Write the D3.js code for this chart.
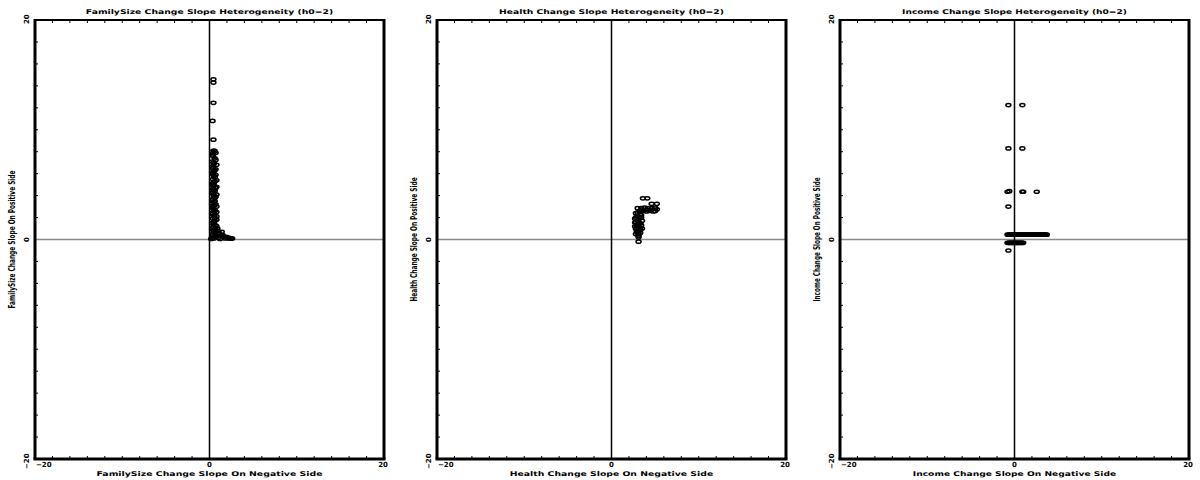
<!DOCTYPE html>
<html>
<head>
<meta charset="utf-8">
<script src="https://cdn.jsdelivr.net/npm/d3@7"></script>
<style>
  html, body { margin: 0; padding: 0; background: #fff; }
  svg { display: block; }
  .ttl { font-family: "DejaVu Sans", sans-serif; font-weight: bold; font-size: 6.5px; fill: #000; }
  .tick { font-family: "DejaVu Sans", sans-serif; font-weight: bold; font-size: 7px; fill: #000; }
  .ylab { font-family: "DejaVu Sans Condensed", "DejaVu Sans", sans-serif; font-stretch: condensed; font-weight: bold; font-size: 8px; fill: #000; }
</style>
</head>
<body>
<script>
// Panel titles and axis labels
const panelNames = ["FamilySize", "Health", "Income"];
const titles = panelNames.map(n => n + " Change Slope Heterogeneity (h0=2)");
const xTitles = panelNames.map(n => n + " Change Slope On Negative Side");
const yTitles = panelNames.map(n => n + " Change Slope On Positive Side");
const xTickLabels = [-20, 0, 20];
const yTickLabels = [-20, 0, 20];

// FamilySize: slope on negative side (x) vs positive side (y)
const familyNeg = [0.45, 0.45, 0.45, 0.35, 0.45,
  0.5, 0.3, 0.7, 0.4, 0.6, 0.3, 0.5, 0.8, 0.4, 0.6, 0.3, 0.7, 0.5, 0.4, 0.6, 0.3, 0.5, 0.8,
  0.4, 0.6, 0.3, 0.5, 0.7, 0.4, 0.6, 0.3, 0.5, 0.8, 0.4, 0.6, 0.3, 0.5, 0.8, 0.4, 0.6, 0.3,
  0.5, 0.8, 0.4, 0.6, 0.9, 0.3, 0.6, 1.0, 0.4, 1.3, 0.7, 1.6, 0.3, 2.0, 1.0, 2.4, 0.5, 1.8,
  2.6, 1.2, 0.2, 1.4, 2.2,
  0.6, 0.4, 0.7, 0.5, 0.3, 0.7, 0.5, 0.4, 0.6, 0.8, 0.5, 0.3, 0.7, 0.5, 0.4, 0.8, 0.6, 0.3,
  0.5, 0.7, 0.4, 0.6, 0.8, 0.3, 0.6, 0.8, 0.5, 0.7, 0.3, 0.9, 0.5, 1.1, 0.7, 1.5, 0.9, 1.9,
  2.2, 2.5, 0.3];
const familyPos = [14.6, 14.3, 12.45, 10.8, 9.1,
  8.1, 8.0, 7.9, 7.6, 7.4, 7.1, 6.9, 6.8, 6.5, 6.3, 6.1, 5.9, 5.8, 5.5, 5.3, 5.1, 4.9, 4.8,
  4.6, 4.4, 4.2, 4.0, 3.9, 3.7, 3.5, 3.3, 3.1, 3.0, 2.8, 2.6, 2.4, 2.2, 2.1, 1.9, 1.7, 1.5,
  1.4, 1.2, 1.1, 0.9, 0.8, 0.7, 0.6, 0.5, 0.4, 0.35, 0.3, 0.25, 0.2, 0.2, 0.15, 0.12, 0.1, 0.1,
  0.08, 0.05, 0.05, 0.7, 0.15,
  8.05, 7.75, 7.25, 7.0, 6.65, 6.4, 6.2, 5.95, 5.65, 5.4, 5.2, 5.0, 4.7, 4.5, 4.3, 4.1, 3.8, 3.6,
  3.4, 3.2, 2.95, 2.7, 2.5, 2.3, 2.0, 1.8, 1.6, 1.3, 1.0, 1.0, 0.75, 0.6, 0.45, 0.4, 0.3, 0.25,
  0.1, 0.1, 0.1];

// Health
const healthNeg = [3.6, 4.1, 4.6, 5.2,
  3.0, 3.4, 3.8, 4.2, 4.6, 5.0, 3.2, 3.6, 4.0, 4.4, 4.8, 5.0,
  2.8, 3.3, 2.9, 3.4, 2.7, 3.1, 3.5, 2.8, 3.2, 2.9, 3.4, 2.7, 3.1, 3.5, 2.8, 3.2, 2.9, 3.3, 2.8, 3.1,
  3.1, 3.1, 3.1,
  3.0, 3.4, 2.8, 3.2, 3.0, 2.7, 3.3, 3.0, 2.8, 3.3, 3.0, 3.1,
  3.4, 3.8, 4.2, 4.6, 5.2];
const healthPos = [3.75, 3.75, 3.25, 3.25,
  2.85, 2.85, 2.9, 2.85, 2.85, 2.9, 2.55, 2.6, 2.55, 2.6, 2.55, 2.6,
  2.4, 2.3, 2.1, 2.0, 1.9, 1.8, 1.7, 1.6, 1.5, 1.35, 1.3, 1.2, 1.1, 1.0, 0.95, 0.85, 0.7, 0.6, 0.5, 0.35,
  0.55, 0.2, -0.2,
  2.45, 2.2, 2.0, 1.95, 1.7, 1.55, 1.45, 1.25, 1.05, 0.9, 0.8, 0.5,
  2.7, 2.7, 2.7, 2.7, 2.75];

// Income
const incomeNeg = [-0.7, 0.9, -0.7, 0.9, -0.8, -0.6, 0.9, 1.0, 2.55, -0.7,
  -0.8, -0.7, -0.6, -0.5, -0.4, -0.3, -0.2, -0.1, 0.0, 0.1, 0.2, 0.3, 0.4, 0.5, 0.6, 0.7, 0.8, 0.9,
  1.0, 1.1, 1.2, 1.3, 1.4, 1.5, 1.6, 1.7, 1.8, 1.9, 2.0, 2.1, 2.2, 2.3, 2.4, 2.5, 2.6, 2.7,
  2.8, 2.9, 3.0, 3.1, 3.2, 3.3, 3.4, 3.5, 3.6, 3.7,
  -0.8, -0.7, -0.6, -0.5, -0.4, -0.3, -0.2, -0.1, 0.0, 0.1, 0.2, 0.3, 0.4, 0.5, 0.6, 0.7, 0.8, 0.9, 1.0,
  -0.7];
const incomePos = [12.25, 12.25, 8.3, 8.3, 4.35, 4.4, 4.35, 4.35, 4.35, 3.0,
  0.44, 0.44, 0.44, 0.44, 0.44, 0.44, 0.44, 0.44, 0.44, 0.44, 0.44, 0.44, 0.44, 0.44, 0.44, 0.44, 0.44, 0.44,
  0.44, 0.44, 0.44, 0.44, 0.44, 0.44, 0.44, 0.44, 0.44, 0.44, 0.44, 0.44, 0.44, 0.44, 0.44, 0.44, 0.44, 0.44,
  0.44, 0.44, 0.44, 0.44, 0.44, 0.44, 0.44, 0.44, 0.44, 0.44,
  -0.3, -0.3, -0.3, -0.3, -0.3, -0.3, -0.3, -0.3, -0.3, -0.3, -0.3, -0.3, -0.3, -0.3, -0.3, -0.3, -0.3, -0.3, -0.3,
  -1.0];

const panels = [
  { neg: familyNeg, pos: familyPos, left: 35 },
  { neg: healthNeg, pos: healthPos, left: 437 },
  { neg: incomeNeg, pos: incomePos, left: 840 }
];

const W = 1200, H = 480;
const plotW = 349, plotTop = 20, plotBottom = 459;

const svg = d3.select("body").append("svg").attr("width", W).attr("height", H);

panels.forEach((p, i) => {
  const x = d3.scaleLinear().domain([-20, 20]).range([p.left, p.left + plotW]);
  const y = d3.scaleLinear().domain([-20, 20]).range([plotBottom, plotTop]);
  const g = svg.append("g");
  const cx = x(0);

  // minor ticks every 2 units, drawn inside the frame
  const xt = x.ticks(20).filter(v => v > -20 && v < 20);
  const yt = y.ticks(20).filter(v => v > -20 && v < 20);
  g.selectAll(".tt").data(xt).enter().append("line")
    .attr("x1", d => x(d)).attr("x2", d => x(d)).attr("y1", plotTop).attr("y2", plotTop + 3)
    .attr("stroke", "#000").attr("stroke-width", 1);
  g.selectAll(".bt").data(xt).enter().append("line")
    .attr("x1", d => x(d)).attr("x2", d => x(d)).attr("y1", plotBottom).attr("y2", plotBottom - 3)
    .attr("stroke", "#000").attr("stroke-width", 1);
  g.selectAll(".lt").data(yt).enter().append("line")
    .attr("x1", p.left).attr("x2", p.left + 3).attr("y1", d => y(d)).attr("y2", d => y(d))
    .attr("stroke", "#000").attr("stroke-width", 1);

  // zero reference lines
  g.append("line").attr("x1", x(-20)).attr("x2", x(20)).attr("y1", y(0)).attr("y2", y(0))
    .attr("stroke", "#8a8a8a").attr("stroke-width", 1.6);
  g.append("line").attr("x1", cx).attr("x2", cx).attr("y1", plotTop).attr("y2", plotBottom)
    .attr("stroke", "#000").attr("stroke-width", 1.5);

  // frame
  g.append("line").attr("x1", p.left).attr("x2", p.left + plotW).attr("y1", plotTop).attr("y2", plotTop)
    .attr("stroke", "#000").attr("stroke-width", 2);
  g.append("line").attr("x1", p.left - 1.5).attr("x2", p.left + plotW + 1.5).attr("y1", plotBottom).attr("y2", plotBottom)
    .attr("stroke", "#000").attr("stroke-width", 3);
  g.append("line").attr("x1", p.left).attr("x2", p.left).attr("y1", plotTop - 1).attr("y2", plotBottom)
    .attr("stroke", "#000").attr("stroke-width", 3);
  g.append("line").attr("x1", p.left + plotW).attr("x2", p.left + plotW).attr("y1", plotTop - 1).attr("y2", plotBottom)
    .attr("stroke", "#000").attr("stroke-width", 3);

  // points
  const pts = p.neg.map((v, k) => [v, p.pos[k]]);
  g.selectAll(".pt").data(pts).enter().append("ellipse")
    .attr("cx", d => x(d[0])).attr("cy", d => y(d[1]))
    .attr("rx", 2.5).attr("ry", 1.6)
    .attr("fill", "none").attr("stroke", "#000").attr("stroke-width", 1.5);

  // x tick labels
  g.selectAll(".xl").data(xTickLabels).enter().append("text").attr("class", "tick")
    .attr("x", d => d === 0 ? x(d) : (d < 0 ? x(d) + 1 : x(d) + 4))
    .attr("y", 467)
    .attr("text-anchor", d => d === 0 ? "middle" : (d < 0 ? "start" : "end"))
    .text(d => d < 0 ? "\u2212" + Math.abs(d) : d);

  // y tick labels (rotated)
  g.selectAll(".yl").data(yTickLabels).enter().append("text").attr("class", "tick")
    .attr("transform", d => {
      const yy = d === 0 ? y(d) : (d < 0 ? y(d) + 10 : y(d) + 4);
      return `translate(${p.left - 8},${yy}) rotate(-90)`;
    })
    .attr("text-anchor", d => d === 0 ? "middle" : "start")
    .attr("dy", "0.35em")
    .text(d => d < 0 ? "\u2212" + Math.abs(d) : d);

  // titles
  g.append("text").attr("class", "ttl")
    .attr("x", cx).attr("y", 14).attr("text-anchor", "middle")
    .attr("textLength", titles[i].length * 5.62).attr("lengthAdjust", "spacingAndGlyphs")
    .text(titles[i]);
  g.append("text").attr("class", "ttl")
    .attr("x", cx).attr("y", 476).attr("text-anchor", "middle")
    .attr("textLength", xTitles[i].length * 5.65).attr("lengthAdjust", "spacingAndGlyphs")
    .text(xTitles[i]);
  g.append("text").attr("class", "ylab")
    .attr("transform", `translate(${p.left - 20},${y(0)}) rotate(-90)`)
    .attr("text-anchor", "middle")
    .attr("textLength", yTitles[i].length * 3.45).attr("lengthAdjust", "spacingAndGlyphs")
    .text(yTitles[i]);
});
</script>
</body>
</html>
